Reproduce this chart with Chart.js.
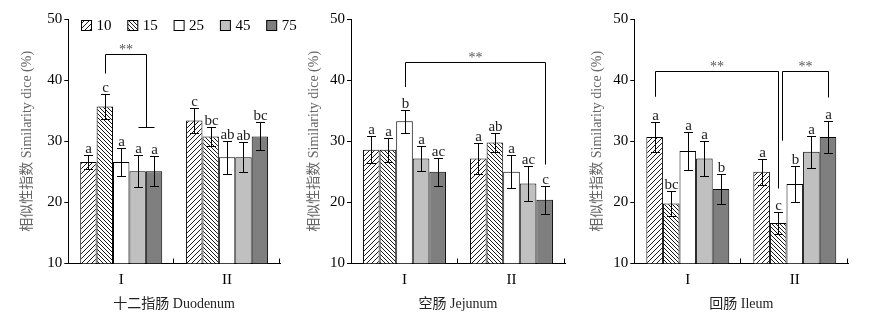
<!DOCTYPE html>
<html>
<head>
<meta charset="utf-8">
<script src="https://cdn.jsdelivr.net/npm/chart.js@4.4.1/dist/chart.umd.min.js"></script>
<style>
  body { margin: 0; background: #fff; }
  #wrap { position: relative; width: 874px; height: 324px; overflow: hidden; }
  canvas { position: absolute; top: 0; }
</style>
</head>
<body>
<div id="wrap">
  <canvas id="duo" width="300" height="324" style="left:0px"></canvas>
  <canvas id="jej" width="290" height="324" style="left:290px"></canvas>
  <canvas id="ile" width="294" height="324" style="left:580px"></canvas>
</div>
<script>
var groups = ['I', 'II'];
var temps = ['10', '15', '25', '45', '75'];

// each row = one temperature, [group I, group II]
var duoMean = [[26.6, 33.4], [35.7, 30.8], [26.6, 27.4], [25.1, 27.4], [25.1, 30.8]];
var duoErr = [[1.2, 2.1], [2.1, 1.6], [2.3, 2.7], [2.6, 2.5], [2.5, 2.3]];
var duoLetters = [['a', 'c'], ['c', 'bc'], ['a', 'ab'], ['a', 'ab'], ['a', 'bc']];

var jejMean = [[28.6, 27.2], [28.6, 29.8], [33.3, 25.0], [27.2, 23.1], [25.0, 20.4]];
var jejErr = [[2.2, 2.6], [2.0, 1.6], [1.9, 2.7], [2.1, 2.9], [2.3, 2.3]];
var jejLetters = [['a', 'a'], ['a', 'ab'], ['b', 'a'], ['a', 'ac'], ['ac', 'c']];

var ileMean = [[30.7, 25.0], [19.8, 16.6], [28.4, 23.0], [27.2, 28.3], [22.2, 30.7]];
var ileErr = [[2.5, 2.1], [2.1, 1.8], [3.1, 2.9], [2.9, 2.6], [2.4, 2.6]];
var ileLetters = [['a', 'a'], ['bc', 'c'], ['a', 'b'], ['a', 'a'], ['b', 'a']];

// brackets: [group A, series A, group B, series B, top, left end, right end, cap]
var duoBrackets = [[0, 1, 0, 3.5, 44.3, 41.1, 32.4, true]];
var jejBrackets = [[0, 2, 1, 4, 43.0, 38.9, 26.3, false]];
var ileBrackets = [[0, 0, 1, 1, 41.6, 37.3, 22.3, false], [1, 1.25, 1, 4, 41.6, 30.1, 37.3, false]];

var serif = "'Liberation Serif', 'Noto Sans CJK SC', serif";

function hatch(size, back) {
    var c = document.createElement('canvas');
    c.width = size; c.height = size;
    var g = c.getContext('2d');
    g.fillStyle = '#fff';
    g.fillRect(0, 0, size, size);
    g.strokeStyle = '#000';
    g.lineWidth = 0.9;
    g.beginPath();
    if (back) {
        g.moveTo(-1, -1); g.lineTo(size + 1, size + 1);
        g.moveTo(-1, size - 1); g.lineTo(1, size + 1);
        g.moveTo(size - 1, -1); g.lineTo(size + 1, 1);
    } else {
        g.moveTo(-1, size + 1); g.lineTo(size + 1, -1);
        g.moveTo(-1, 1); g.lineTo(1, -1);
        g.moveTo(size - 1, size + 1); g.lineTo(size + 1, size - 1);
    }
    g.stroke();
    return g.createPattern(c, 'repeat');
}

var fills = [hatch(5, false), hatch(4, true), '#ffffff', '#c0c0c0', '#7f7f7f'];

function barX(chart, cat, ds) {
    var a = Math.floor(ds), b = Math.ceil(ds), t = ds - a;
    var xa = chart.getDatasetMeta(a).data[cat].x;
    var xb = chart.getDatasetMeta(b).data[cat].x;
    return xa + (xb - xa) * t;
}

function overlay(p) {
    return {
        id: 'overlay',
        afterDatasetsDraw: function(chart) {
            var ctx = chart.ctx, y = chart.scales.y, x = chart.scales.x;
            ctx.save();
            ctx.strokeStyle = '#000';
            ctx.lineWidth = 1;

            // error bars + letters
            chart.data.datasets.forEach(function(ds, i) {
                chart.getDatasetMeta(i).data.forEach(function(bar, j) {
                    var v = ds.data[j], e = p.err[i][j];
                    var bx = Math.round(bar.x) + 0.5;
                    var yt = Math.round(y.getPixelForValue(v + e)) + 0.5;
                    var yb = Math.round(y.getPixelForValue(v - e)) + 0.5;
                    ctx.beginPath();
                    ctx.moveTo(bx, yt); ctx.lineTo(bx, yb);
                    ctx.moveTo(bx - 4.5, yt); ctx.lineTo(bx + 4.5, yt);
                    ctx.moveTo(bx - 4.5, yb); ctx.lineTo(bx + 4.5, yb);
                    ctx.stroke();
                    ctx.fillStyle = '#222';
                    ctx.font = '15px ' + serif;
                    ctx.textAlign = 'center';
                    ctx.textBaseline = 'alphabetic';
                    ctx.fillText(p.letters[i][j], bx, yt - 3);
                });
            });

            // significance brackets
            p.brackets.forEach(function(b) {
                var x1 = Math.round(barX(chart, b[0], b[1])) + 0.5;
                var x2 = Math.round(barX(chart, b[2], b[3])) + 0.5;
                var top = Math.round(y.getPixelForValue(b[4])) + 0.5;
                var l = y.getPixelForValue(b[5]), r = Math.round(y.getPixelForValue(b[6])) + 0.5;
                ctx.beginPath();
                ctx.moveTo(x1, l); ctx.lineTo(x1, top); ctx.lineTo(x2, top); ctx.lineTo(x2, r);
                if (b[7]) { ctx.moveTo(x2 - 8, r); ctx.lineTo(x2 + 8, r); }
                ctx.stroke();
                ctx.fillStyle = '#555';
                ctx.font = '14px ' + serif;
                ctx.textAlign = 'center';
                ctx.textBaseline = 'alphabetic';
                ctx.fillText('**', (x1 + x2) / 2, top - 0.5);
            });

            // small inward ticks at group boundaries
            var bot = Math.round(x.top) + 0.5;
            [0.5, 1.5].forEach(function(v) {
                var px = Math.round(x.getPixelForValue(v)) - 0.5;
                ctx.beginPath();
                ctx.moveTo(px, bot); ctx.lineTo(px, bot - 5);
                ctx.stroke();
            });

            // legend (first panel only)
            if (p.legend) {
                ctx.font = '15px ' + serif;
                ctx.textAlign = 'left';
                ctx.textBaseline = 'middle';
                chart.data.datasets.forEach(function(ds, i) {
                    var lx = 81.5 + i * 46.3, ly = 20.5;
                    ctx.fillStyle = ds.backgroundColor;
                    ctx.fillRect(lx, ly, 10, 10);
                    ctx.strokeRect(lx, ly, 10, 10);
                    ctx.fillStyle = '#000';
                    ctx.fillText(ds.label, lx + 15, ly + 5.5);
                });
            }
            ctx.restore();
        }
    };
}

var panels = [
    { id: 'duo', w: 300, plotL: 68.3, plotR: 280, titleX: 27, xTitle: '十二指肠 Duodenum',
      mean: duoMean, err: duoErr, letters: duoLetters, brackets: duoBrackets, legend: true },
    { id: 'jej', w: 290, plotL: 61, plotR: 275, titleX: 24, xTitle: '空肠 Jejunum',
      mean: jejMean, err: jejErr, letters: jejLetters, brackets: jejBrackets, legend: false },
    { id: 'ile', w: 294, plotL: 54.3, plotR: 268.3, titleX: 17, xTitle: '回肠 Ileum',
      mean: ileMean, err: ileErr, letters: ileLetters, brackets: ileBrackets, legend: false }
];

panels.forEach(function(p) {
    var padL = p.titleX - 8.4;
    var ctx = document.getElementById(p.id).getContext('2d');
    new Chart(ctx, {
        type: 'bar',
        data: {
            labels: groups,
            datasets: temps.map(function(t, i) {
                return {
                    label: t,
                    data: p.mean[i],
                    backgroundColor: fills[i],
                    borderColor: '#000',
                    borderWidth: 1,
                    borderSkipped: false,
                    categoryPercentage: 0.775,
                    barPercentage: 1
                };
            })
        },
        options: {
            responsive: false,
            animation: false,
            devicePixelRatio: 1,
            layout: { padding: { left: padL, right: p.w - p.plotR, top: 19.3, bottom: 11.7 } },
            plugins: { legend: { display: false }, tooltip: { enabled: false } },
            scales: {
                x: {
                    afterFit: function(s) { s.height = 49; },
                    grid: { display: false },
                    border: { display: true, color: '#000', width: 1 },
                    ticks: { color: '#000', padding: 0, font: { family: serif, size: 15 } },
                    title: { display: true, text: p.xTitle, color: '#222', padding: { top: 0, bottom: 0 },
                             font: { family: serif, size: 14 } }
                },
                y: {
                    min: 10,
                    max: 50,
                    afterFit: function(s) { s.width = p.plotL - padL; },
                    grid: { drawOnChartArea: false, tickLength: 4, color: '#000' },
                    border: { display: true, color: '#000', width: 1 },
                    ticks: { stepSize: 10, color: '#000', padding: 2, font: { family: serif, size: 15 } },
                    title: { display: true, text: '相似性指数 Similarity dice (%)', color: '#666',
                             padding: { top: 0, bottom: 0 }, font: { family: serif, size: 14 } }
                }
            }
        },
        plugins: [overlay(p)]
    });
});
</script>
</body>
</html>
